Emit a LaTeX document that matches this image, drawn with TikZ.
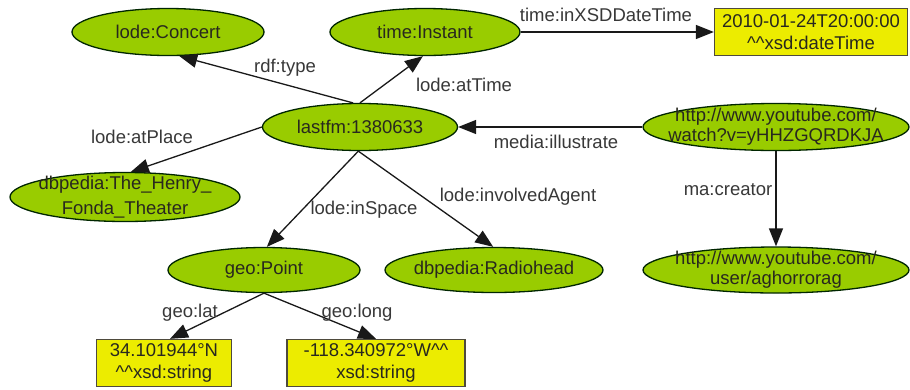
\documentclass[tikz,border=0pt]{standalone}
\usepackage{fontspec}
\setmainfont{Liberation Sans}
\usetikzlibrary{shapes.geometric,arrows.meta,calc}
\definecolor{ellgreen}{RGB}{153,204,0}
\definecolor{boxyellow}{RGB}{236,236,0}
\definecolor{edgecol}{RGB}{25,25,25}
\definecolor{txtcol}{RGB}{40,40,30}
\begin{document}
\begin{tikzpicture}[x=1pt,y=-1pt,
  ell/.style={ellipse,draw=black!85!green,line width=1.3pt,fill=ellgreen,inner sep=0pt,minimum height=47pt},
  lit/.style={rectangle,draw=black!80!yellow,line width=1.3pt,fill=boxyellow,inner sep=0pt,minimum height=47pt},
  txt/.style={font=\fontsize{18.5}{21}\selectfont,text=txtcol,align=center,inner sep=0pt},
  lbl/.style={font=\fontsize{18.5}{21}\selectfont,text=black!78,inner sep=0pt},
  arr/.style={draw=edgecol,line width=1.3pt,-{Triangle[length=18pt,width=14pt]}}]
\useasboundingbox (0,0) rectangle (910,389);
\fill[white] (0,0) rectangle (910,389);
% ellipses
\node[ell,minimum width=192pt] (concert) at (168,32) {};
\node[txt] (concert-t) at (concert) {lode:Concert};
\node[ell,minimum width=190pt] (instant) at (425,32) {};
\node[txt] (instant-t) at (instant) {time:Instant};
\node[ell,minimum width=195pt] (lastfm) at (360,127) {};
\node[txt] (lastfm-t) at (lastfm) {lastfm:1380633};
\node[ell,minimum width=230pt,minimum height=49pt] (henry) at (125,197) {};
\node[txt,font=\fontsize{18.5}{25}\selectfont] (henry-t) at (henry) {dbpedia:The\_Henry\_\\Fonda\_Theater};
\node[ell,minimum width=192pt,minimum height=45pt] (geo) at (264,270) {};
\node[txt] (geo-t) at (geo) {geo:Point};
\node[ell,minimum width=218pt,minimum height=45pt] (radio) at (494,270) {};
\node[txt] (radio-t) at (radio) {dbpedia:Radiohead};
\node[ell,minimum width=266pt] (watch) at (776,127) {};
\node[txt,font=\fontsize{18.5}{20}\selectfont] (watch-t) at (watch) {http://www.youtube.com/\\watch?v=yHHZGQRDKJA};
\node[ell,minimum width=266pt,minimum height=46pt] (user) at (776,270) {};
\node[txt,font=\fontsize{18.5}{20}\selectfont] (user-t) at (user) {http://www.youtube.com/\\user/aghorrorag};
% literals
\node[lit,minimum width=193pt] (dt) at (811,32) {};
\node[txt,font=\fontsize{18.5}{22}\selectfont] (dt-t) at (dt) {2010-01-24T20:00:00\\\^{}\^{}xsd:dateTime};
\node[lit,minimum width=135pt] (lat) at (164,363) {};
\node[txt,font=\fontsize{18.5}{22}\selectfont] (lat-t) at (lat) {34.101944°N\\\^{}\^{}xsd:string};
\node[lit,minimum width=178pt] (long) at (376,363) {};
\node[txt,font=\fontsize{18.5}{22}\selectfont] (long-t) at (long) {-118.340972°W\^{}\^{}\\xsd:string};
% edges
\draw[arr] (lastfm.106) -- (concert.295);
\draw[arr] (lastfm.90) -- (instant.265);
\draw[arr] (lastfm.180) -- (henry.77);
\draw[arr] (lastfm.266) -- (geo.83);
\draw[arr] (lastfm.266) -- (radio.92);
\draw[arr] (watch.west) -- (lastfm.east);
\draw[arr] (watch.south) -- (user.north);
\draw[arr] (instant.east) -- (dt.west);
\draw[arr] (geo.south) -- ($(lat.north)+(6,0)$);
\draw[arr] (geo.south) -- (long.north);
% edge labels
\node[lbl] (l-type) at (285,68) {rdf:type};
\node[lbl] (l-time) at (464,85) {lode:atTime};
\node[lbl] (l-xsd) at (606,15) {time:inXSDDateTime};
\node[lbl] (l-place) at (142,137) {lode:atPlace};
\node[lbl] (l-ill) at (556,142) {media:illustrate};
\node[lbl] (l-cre) at (728,190) {ma:creator};
\node[lbl] (l-space) at (364,210) {lode:inSpace};
\node[lbl] (l-agent) at (518,197) {lode:involvedAgent};
\node[lbl] (l-lat) at (190,313) {geo:lat};
\node[lbl] (l-long) at (357,313) {geo:long};
\end{tikzpicture}
\end{document}
